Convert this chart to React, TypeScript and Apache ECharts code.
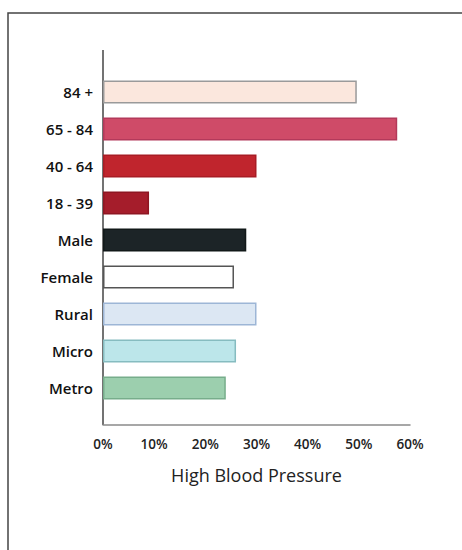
import React, { useEffect, useRef } from "react";
import * as echarts from "echarts";

const categories = ["84 +", "65 - 84", "40 - 64", "18 - 39", "Male", "Female", "Rural", "Micro", "Metro"];
const values = [49.6, 57.5, 30, 9, 28, 25.6, 30, 26, 24];
const fillColors = ["#fbe7dd", "#cf4b68", "#c0252d", "#a51d2b", "#1c2427", "#ffffff", "#dce7f3", "#bce6ea", "#9ccfae"];
const borderColors = ["#9a9a9a", "#b3395a", "#a81c24", "#8e1622", "#111819", "#555555", "#9db6d6", "#86bcc0", "#77ad8b"];
const xTicks = [0, 10, 20, 30, 40, 50, 60];
const axisTitle = "High Blood Pressure";

export default function App() {
  const ref = useRef<HTMLDivElement>(null);
  useEffect(() => {
    if (!ref.current) return;
    const chart = echarts.init(ref.current, null, { renderer: "svg" });
    chart.setOption({
      animation: false,
      backgroundColor: "#ffffff",
      grid: { left: 103, right: 52, top: 73.5, bottom: 143.5, containLabel: false },
      xAxis: {
        type: "value",
        min: xTicks[0],
        max: xTicks[xTicks.length - 1],
        interval: 10,
        offset: 18.5,
        axisLine: { show: true, lineStyle: { color: "#8a8a8a", width: 1.5 } },
        axisTick: { show: false },
        splitLine: { show: false },
        axisLabel: {
          formatter: "{value}%",
          margin: 12,
          fontFamily: "Open Sans",
          fontWeight: 600,
          fontSize: 13.5,
          color: "#222",
        },
        name: axisTitle,
        nameLocation: "middle",
        nameGap: 41,
        nameTextStyle: { fontFamily: "Open Sans", fontSize: 18, color: "#222", verticalAlign: "top" },
      },
      yAxis: {
        type: "category",
        data: categories,
        inverse: true,
        axisLine: { show: false },
        axisTick: { show: false },
        axisLabel: {
          margin: 10,
          fontFamily: "Open Sans",
          fontWeight: 600,
          fontSize: 15,
          color: "#111",
        },
      },
      series: [
        {
          type: "bar",
          barWidth: 23,
          data: values.map((v, i) => ({
            value: v,
            itemStyle: { color: fillColors[i], borderColor: borderColors[i], borderWidth: 1.5 },
          })),
        },
      ],
      graphic: [
        {
          type: "rect",
          shape: { x: 8, y: 13, width: 480, height: 560 },
          style: { fill: "none", stroke: "#444", lineWidth: 1.5 },
          silent: true,
          z: -1,
        },
        {
          type: "line",
          shape: { x1: 103, y1: 50, x2: 103, y2: 425 },
          style: { stroke: "#444", lineWidth: 1.5 },
          silent: true,
        },
      ],
    });
    return () => chart.dispose();
  }, []);
  return <div ref={ref} style={{ position: "fixed", left: 0, top: 0, width: 462, height: 550 }} />;
}
